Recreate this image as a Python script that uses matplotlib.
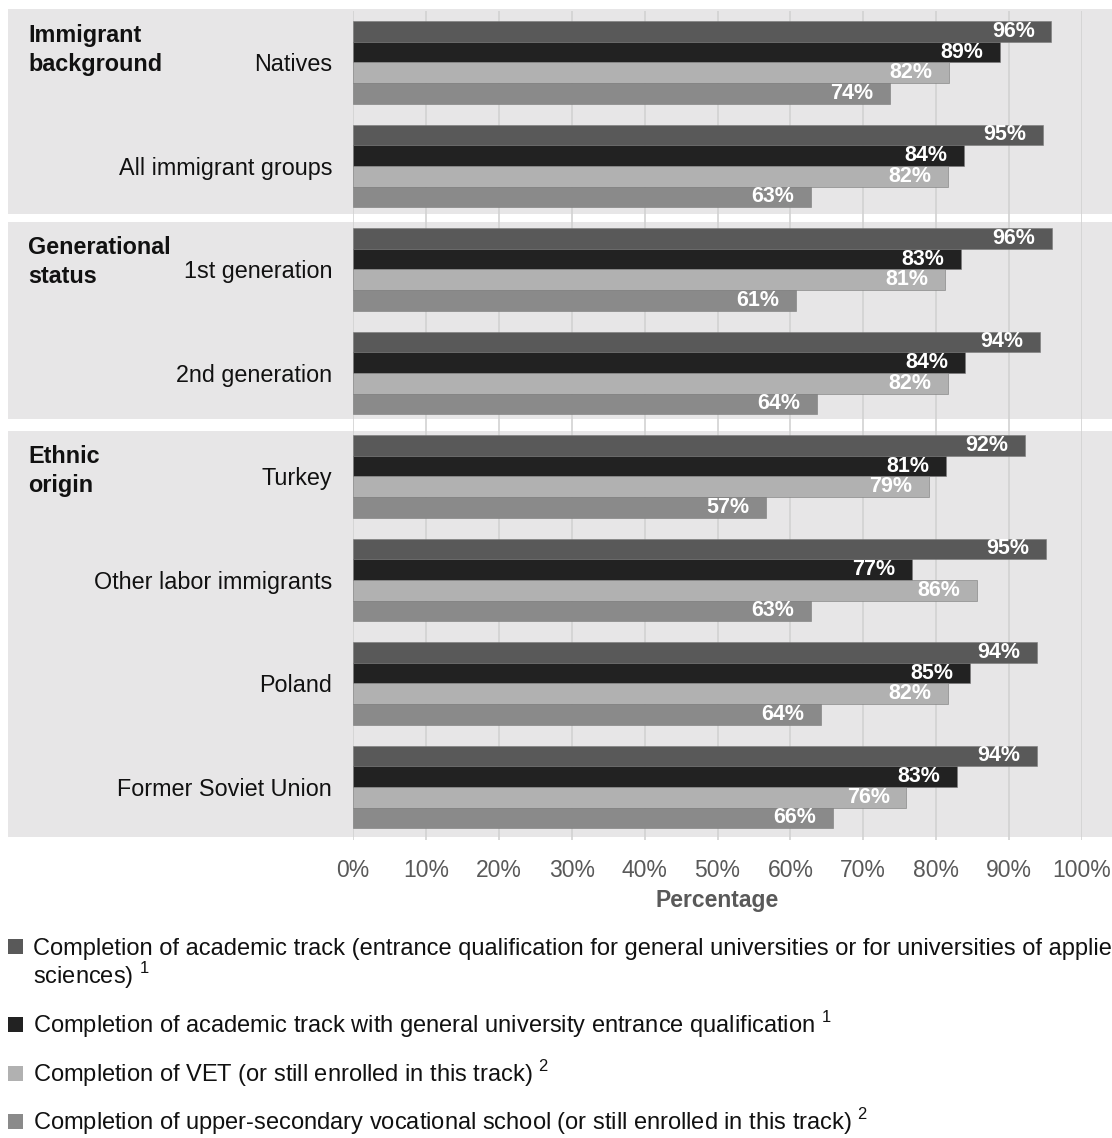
import matplotlib
matplotlib.use("Agg")
from matplotlib import pyplot as plt
from matplotlib.patches import Rectangle
import matplotlib.transforms as mtransforms
import numpy as np

plt.rcParams['font.family'] = ['Liberation Sans', 'DejaVu Sans']
plt.rcParams['mathtext.fontset'] = 'custom'
plt.rcParams['mathtext.rm'] = 'Liberation Sans'

categories = ["Natives", "All immigrant groups", "1st generation", "2nd generation",
              "Turkey", "Other labor immigrants", "Poland", "Former Soviet Union"]
section_titles = ["Immigrant\nbackground", "Generational\nstatus", "Ethnic\norigin"]

academic = [95.8, 94.6, 95.9, 94.2, 92.2, 95.1, 93.8, 93.8]
academic_general = [88.8, 83.8, 83.4, 84.0, 81.3, 76.7, 84.6, 82.9]
vet = [81.7, 81.6, 81.2, 81.6, 79.0, 85.6, 81.6, 75.9]
vocational = [73.6, 62.8, 60.8, 63.6, 56.7, 62.8, 64.2, 65.8]

series = [academic, academic_general, vet, vocational]
series_names = [
    "Completion of academic track (entrance qualification for general universities or for universities of applied\nsciences) $^{1}$",
    "Completion of academic track with general university entrance qualification $^{1}$",
    "Completion of VET (or still enrolled in this track) $^{2}$",
    "Completion of upper-secondary vocational school (or still enrolled in this track) $^{2}$",
]
colors = ["#595959", "#222222", "#b1b1b1", "#8a8a8a"]
panel_color = "#e7e6e7"
tick_color = "#595959"

W, H = 1112, 1138
SLOT = 20.7  # pixels per bar slot
fig = plt.figure(figsize=(W / 100, H / 100), dpi=100)
ax = fig.add_axes([353 / W, 1 - 839.5 / H, 729 / W, 828.85 / H])

n = len(categories)
group_centers = np.arange(n) * 5 + 2.5

# bars
for k, vals in enumerate(series):
    ypos = np.arange(n) * 5 + 1 + k
    ax.barh(ypos, vals, height=1.0, color=colors[k], edgecolor="#7a7a7a",
            linewidth=0.4, zorder=3)
    for y, v in zip(ypos, vals):
        ax.annotate(f"{round(v)}%", (v, y), xytext=(-12, 0), textcoords="offset points",
                    ha="right", va="center", color="white", fontsize=15.5,
                    fontweight="bold", zorder=4)

# gray section panels with their headers
trans = mtransforms.blended_transform_factory(ax.transAxes, ax.transData)
panel_extents = [(-0.06, 9.82), (10.21, 19.73), (20.31, 39.92)]
x0 = (8 - 353) / 729
hx = (28 - 353) / 729
for title, (top, bottom) in zip(section_titles, panel_extents):
    ax.add_patch(Rectangle((x0, top), (W - 8) / 729, bottom - top, transform=trans,
                           facecolor=panel_color, edgecolor="none", clip_on=False, zorder=0.1))
    for i, line in enumerate(title.split("\n")):
        ax.text(hx, top + (32.4 + 29 * i) / SLOT, line, transform=trans, ha="left",
                va="baseline", fontsize=16.8, fontweight="bold", color="#111111", zorder=5)

ax.set_xlim(0, 100)
ax.set_ylim(40.04, 0)
ax.set_xticks(np.arange(0, 101, 10))
ax.set_xticklabels([f"{t}%" for t in range(0, 101, 10)])
ax.set_yticks(group_centers)
ax.set_yticklabels(categories)
ax.tick_params(axis="y", length=0, pad=15, labelsize=16.8, labelcolor="#111111")
ax.tick_params(axis="x", length=0, pad=14, labelsize=16.5, labelcolor=tick_color)
ax.set_xlabel("Percentage", fontsize=16.5, fontweight="bold", color=tick_color, labelpad=5)
ax.grid(axis="x", color="#d2d2d2", linewidth=1.2, zorder=0.5)
ax.set_axisbelow(True)
ax.set_facecolor("none")
for s in ax.spines.values():
    s.set_visible(False)

# legend, drawn by hand so the long first entry runs off the edge like the original
legend_baselines = [955, 1033, 1082, 1130]
for name, color, yb in zip(series_names, colors, legend_baselines):
    fig.add_artist(Rectangle((8 / W, 1 - (yb - 1) / H), 15 / W, 15 / H,
                             transform=fig.transFigure, facecolor=color, edgecolor="none"))
    for i, line in enumerate(name.split("\n")):
        fig.text(33 / W, 1 - (yb + 28.5 * i) / H, line, ha="left", va="baseline",
                 fontsize=17, color="#111111")

fig.savefig("out.png", dpi=100)
